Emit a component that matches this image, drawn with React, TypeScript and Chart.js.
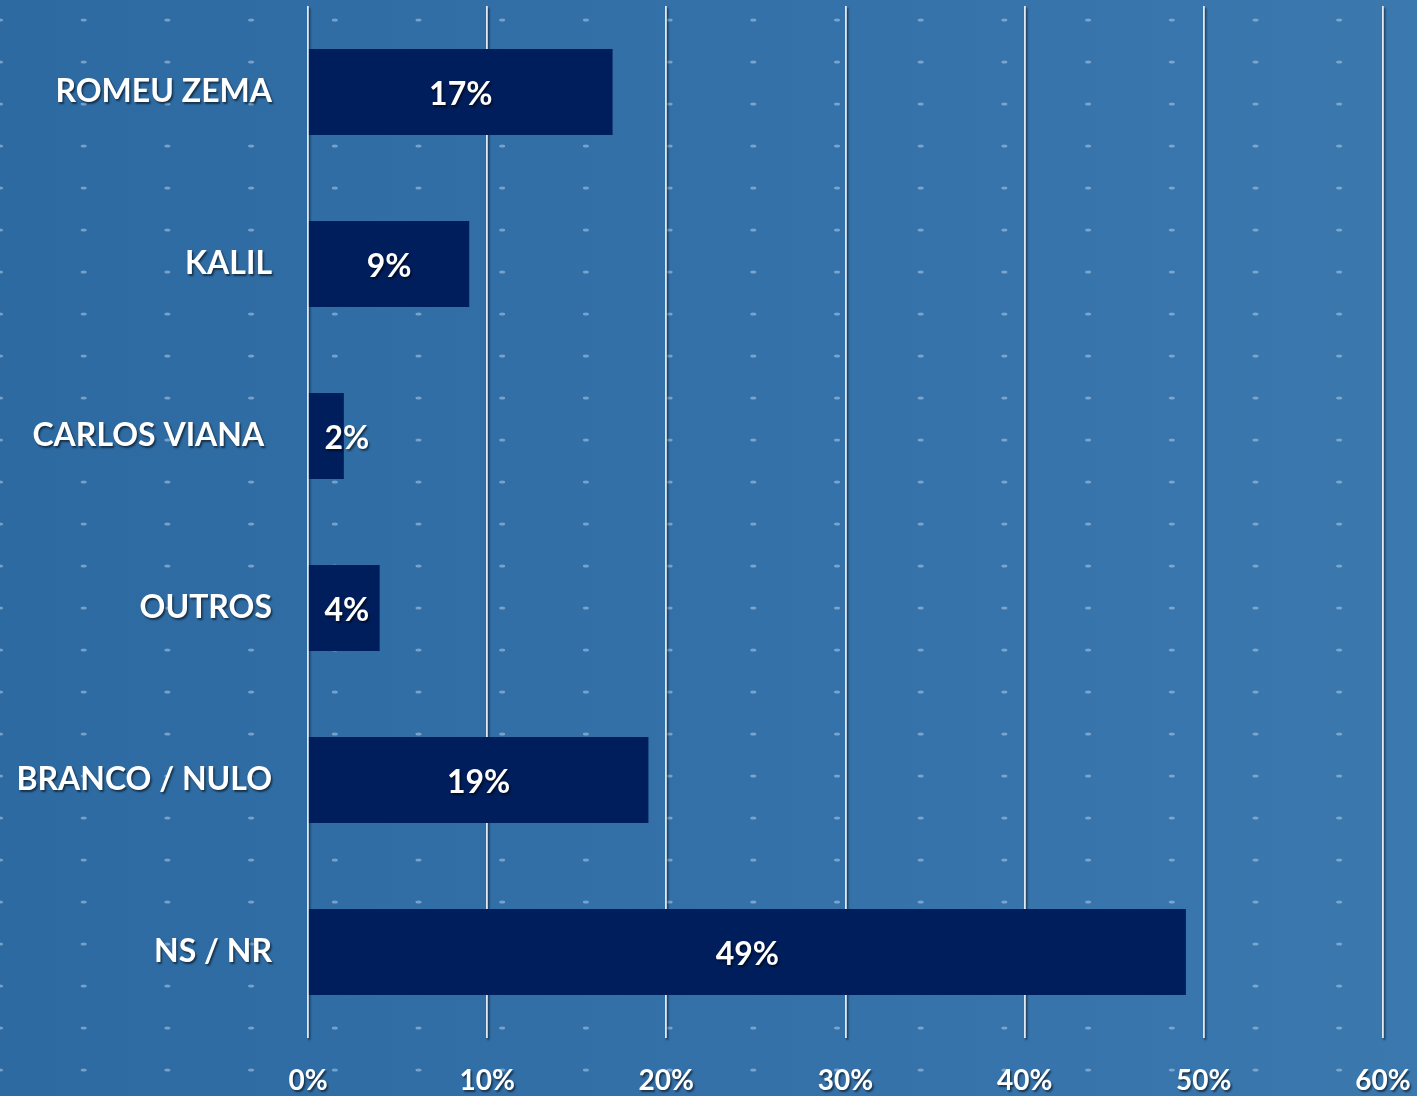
import React, { useEffect, useRef } from "react";
import { Chart, registerables } from "chart.js";

Chart.register(...registerables);

const categories = ["ROMEU ZEMA", "KALIL", "CARLOS VIANA ", "OUTROS", "BRANCO / NULO", "NS / NR"];
const values = [17, 9, 2, 4, 19, 49];
const xTicks = [0, 10, 20, 30, 40, 50, 60];

const W = 1417;
const H = 1096;
const FONT = "Lato, 'Open Sans', sans-serif";

const backgroundPlugin = {
  id: "bgPattern",
  beforeDraw(chart: any) {
    const ctx = chart.ctx;
    ctx.save();
    const g = ctx.createLinearGradient(0, 0, W, 0);
    g.addColorStop(0, "#2d6aa1");
    g.addColorStop(0.6, "#3572aa");
    g.addColorStop(1, "#3a78ae");
    ctx.fillStyle = g;
    ctx.fillRect(0, 0, W, H);
    ctx.fillStyle = "rgba(175,205,235,0.55)";
    for (let x = 0; x < W + 10; x += 83.7) {
      for (let y = 20; y < H + 10; y += 42) {
        ctx.beginPath();
        ctx.ellipse(x, y, 3, 1.5, 0, 0, Math.PI * 2);
        ctx.fill();
      }
    }
    ctx.restore();
    ctx.shadowColor = "rgba(0,0,0,0.55)";
    ctx.shadowOffsetX = 1.5;
    ctx.shadowOffsetY = 2;
    ctx.shadowBlur = 2;
  },
  beforeDatasetsDraw(chart: any) {
    const ctx = chart.ctx;
    ctx.shadowColor = "rgba(0,0,0,0)";
    ctx.shadowOffsetX = 0;
    ctx.shadowOffsetY = 0;
    ctx.shadowBlur = 0;
  },
  afterDatasetsDraw(chart: any) {
    const ctx = chart.ctx;
    const meta = chart.getDatasetMeta(0);
    ctx.save();
    ctx.font = `bold 32px ${FONT}`;
    ctx.fillStyle = "#ffffff";
    ctx.textAlign = "center";
    ctx.textBaseline = "middle";
    ctx.shadowColor = "rgba(0,0,0,0.55)";
    ctx.shadowOffsetX = 1.5;
    ctx.shadowOffsetY = 2;
    ctx.shadowBlur = 2;
    meta.data.forEach((bar: any, i: number) => {
      const center = (bar.base + bar.x) / 2;
      const lx = Math.max(center, bar.base + 38);
      ctx.fillText(`${values[i]}%`, lx, bar.y + 3);
    });
    ctx.restore();
  },
};

export default function App() {
  const ref = useRef<HTMLCanvasElement | null>(null);
  useEffect(() => {
    if (!ref.current) return;
    const chart = new Chart(ref.current, {
      type: "bar",
      data: {
        labels: categories,
        datasets: [
          {
            data: values,
            backgroundColor: "#001e5c",
            borderWidth: 0,
            categoryPercentage: 1,
            barPercentage: 0.5,
          },
        ],
      },
      options: {
        indexAxis: "y",
        animation: false,
        responsive: false,
        devicePixelRatio: 1,
        layout: { padding: { top: 6, right: 34, left: 0, bottom: 0 } },
        plugins: { legend: { display: false }, tooltip: { enabled: false } },
        scales: {
          x: {
            min: 0,
            max: 60,
            afterBuildTicks: (scale: any) => {
              scale.ticks = xTicks.map((v) => ({ value: v }));
            },
            afterFit: (scale: any) => {
              scale.height = 58;
              scale.paddingLeft = 0;
              scale.paddingRight = 0;
              scale.paddingTop = 0;
              scale.paddingBottom = 0;
            },
            grid: { color: "#dfe8f2", lineWidth: 1.8, drawTicks: false },
            border: { display: false },
            ticks: {
              color: "#ffffff",
              font: { family: FONT, size: 28, weight: "bold" },
              padding: 26,
              maxRotation: 0,
              autoSkip: false,
              callback: (v: any) => `${v}%`,
            },
          },
          y: {
            afterFit: (scale: any) => {
              scale.width = 308;
              scale.paddingLeft = 0;
              scale.paddingRight = 0;
              scale.paddingTop = 0;
              scale.paddingBottom = 0;
            },
            grid: { display: false, drawTicks: false },
            border: { display: false },
            ticks: {
              color: "#ffffff",
              font: { family: FONT, size: 32, weight: "bold" },
              padding: 36,
              autoSkip: false,
            },
          },
        },
      },
      plugins: [backgroundPlugin],
    });
    return () => chart.destroy();
  }, []);
  return (
    <div style={{ position: "fixed", left: 0, top: 0, width: W, height: H }}>
      <canvas ref={ref} width={W} height={H} style={{ width: W, height: H, display: "block" }} />
    </div>
  );
}
